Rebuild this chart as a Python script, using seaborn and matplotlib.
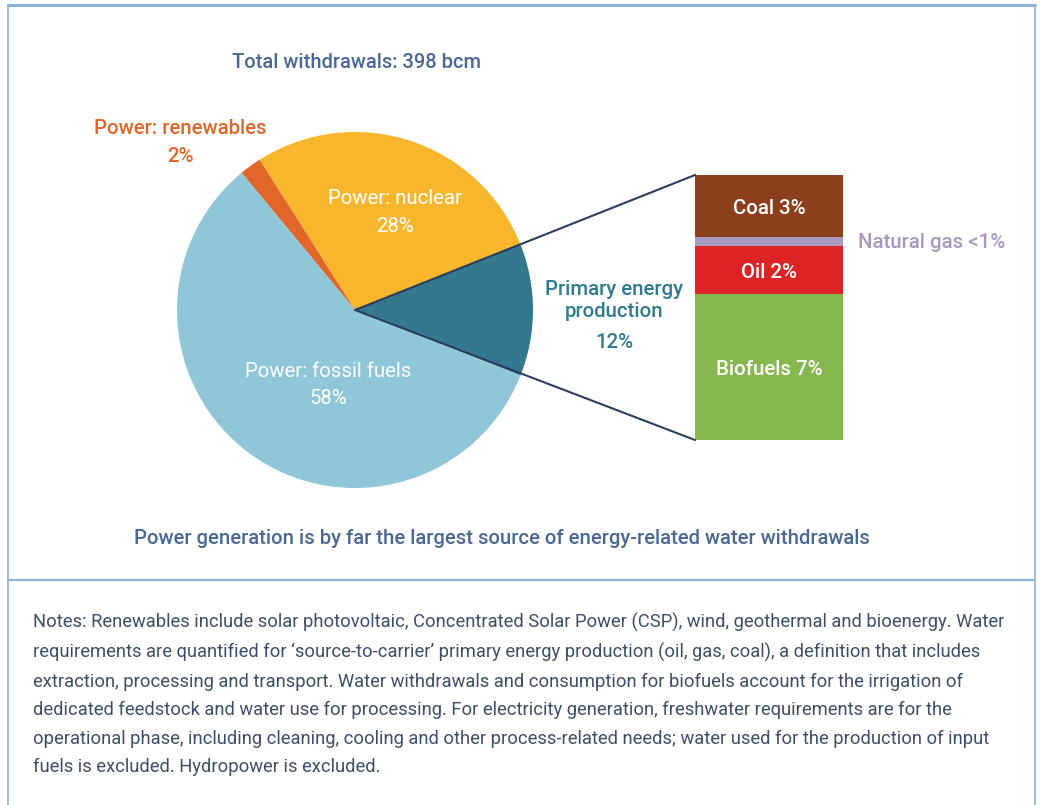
import numpy as np
import pandas as pd
import seaborn as sns
import matplotlib.pyplot as plt
from matplotlib.patches import ConnectionPatch

# Pie data (share of total withdrawals, %)
pie_labels = ['Primary energy production', 'Power: nuclear', 'Power: renewables', 'Power: fossil fuels']
pie_values = [12, 28, 2, 58]
pie_colors = ['#33788f', '#f8b62d', '#e0662a', '#8fc6d8']

# Breakdown of primary energy production (bottom to top)
bar_labels = ['Biofuels 7%', 'Oil 2%', 'Natural gas <1%', 'Coal 3%']
bar_values = [6.6, 2.2, 0.4, 2.8]
bar_colors = ['#87b84f', '#dc2427', '#a99ac0', '#8b3f1d']

title = 'Total withdrawals: 398 bcm'
subtitle = 'Power generation is by far the largest source of energy-related water withdrawals'
notes = ("Notes: Renewables include solar photovoltaic, Concentrated Solar Power (CSP), wind, geothermal and bioenergy. Water\n"
         "requirements are quantified for \u2018source-to-carrier\u2019 primary energy production (oil, gas, coal), a definition that includes\n"
         "extraction, processing and transport. Water withdrawals and consumption for biofuels account for the irrigation of\n"
         "dedicated feedstock and water use for processing. For electricity generation, freshwater requirements are for the\n"
         "operational phase, including cleaning, cooling and other process-related needs; water used for the production of input\n"
         "fuels is excluded. Hydropower is excluded.")

sns.set_theme(style='white')
plt.rcParams['font.family'] = ['Roboto', 'DejaVu Sans']

W, H = 1040, 805
fig = plt.figure(figsize=(W / 100, H / 100), dpi=100)
fig.patch.set_facecolor('white')

# main axes in pixel units (y up)
ax = fig.add_axes([0, 0, 1, 1])
cx, cy, r = 355, H - 310, 178
ax.pie(pie_values, colors=pie_colors, startangle=-pie_values[0] / 100 * 360 / 2,
       center=(cx, cy), radius=r, wedgeprops=dict(linewidth=0))
ax.set_xlim(0, W)
ax.set_ylim(0, H)
ax.set_aspect('equal')
ax.axis('off')

def px(x, y):
    # pixel position from the top, small nudge for text centring
    return x, H - y - 2

# frame
frame_c = '#8db3dc'
ax.plot([8, 8], [0, H - 5], color=frame_c, lw=1.2)
ax.plot([1035, 1035], [0, H - 5], color=frame_c, lw=1.2)
ax.plot([8, 1035], [H - 5, H - 5], color=frame_c, lw=2.2)
ax.plot([8, 1035], [H - 580, H - 580], color=frame_c, lw=1.6)

# texts
fs = 14.7
blue = '#4a6895'
ax.text(*px(357, 61), title, color=blue, fontsize=14.5, fontweight='medium', ha='center', va='center')
ax.text(*px(180, 126), 'Power: renewables', color='#e0662a', fontsize=fs, fontweight='medium', ha='center', va='center')
ax.text(*px(180, 154), '2%', color='#e0662a', fontsize=fs, fontweight='medium', ha='center', va='center')
ax.text(*px(395, 197), 'Power: nuclear', color='white', fontsize=fs, ha='center', va='center')
ax.text(*px(395, 225), '28%', color='white', fontsize=fs, ha='center', va='center')
ax.text(*px(328, 370), 'Power: fossil fuels', color='white', fontsize=fs, ha='center', va='center')
ax.text(*px(328, 397), '58%', color='white', fontsize=fs, ha='center', va='center')
teal = '#2e7a8e'
ax.text(*px(614, 299), 'Primary energy\nproduction', color=teal, fontsize=fs, fontweight='medium',
        ha='center', va='center', linespacing=1.2)
ax.text(*px(614, 341), '12%', color=teal, fontsize=fs, fontweight='medium', ha='center', va='center')
ax.text(*px(932, 241), 'Natural gas <1%', color='#a898c0', fontsize=fs, fontweight='medium', ha='center', va='center')
ax.text(*px(502, 536), subtitle, color=blue, fontsize=14.6, fontweight='medium', ha='center', va='center')
ax.text(*px(33, 611), notes, color='#3e4d68', fontsize=13.2, ha='left', va='top', linespacing=1.74)

# stacked bar (cumulative overlays, seaborn)
bx0, bx1, by0, by1 = 695, 843, 175, 440
bax = fig.add_axes([bx0 / W, 1 - by1 / H, (bx1 - bx0) / W, (by1 - by0) / H])
cum = np.cumsum(bar_values)
df = pd.DataFrame({'seg': bar_labels, 'cum': cum, 'color': bar_colors})
for i in range(len(df) - 1, -1, -1):
    sns.barplot(x=['Primary'], y=[df['cum'][i]], color=df['color'][i], width=1, ax=bax,
                saturation=1, linewidth=0)
bax.set_xlim(-0.5, 0.5)
bax.set_ylim(0, cum[-1])
bax.axis('off')
for i, lab in enumerate(bar_labels):
    if lab.startswith('Natural'):
        continue
    mid = cum[i] - bar_values[i] / 2 - 0.12
    bax.text(0, mid, lab, color='white', fontsize=fs, fontweight='medium', ha='center', va='center')

# connector lines from bar corners to pie centre
for yb in (cum[-1], 0):
    con = ConnectionPatch(xyA=(-0.5, yb), coordsA=bax.transData, xyB=(cx, cy), coordsB=ax.transData,
                          color='#2c3e5e', lw=1.5, zorder=5)
    fig.add_artist(con)

fig.savefig('out.png', dpi=100)
